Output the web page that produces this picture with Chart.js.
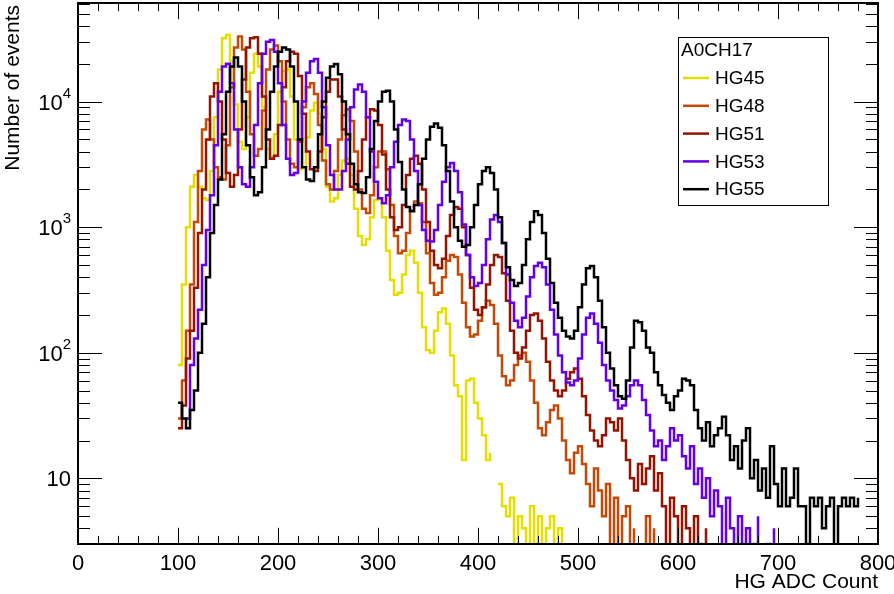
<!DOCTYPE html>
<html>
<head>
<meta charset="utf-8">
<script src="https://cdn.jsdelivr.net/npm/chart.js@4/dist/chart.umd.min.js"></script>
<style>
  html, body { margin: 0; padding: 0; background: #fff; }
  canvas { display: block; }
</style>
</head>
<body>
<canvas id="chart-canvas" width="894" height="594"></canvas>
<script>
// Histogram binning: bins are 4 ADC counts wide, first bin starts at 100
const bin_start = 100
const bin_width = 4

const series_names = ['HG45', 'HG48', 'HG51', 'HG53', 'HG55']
const series_colors = ['#e4df00', '#c24b0a', '#931400', '#6300e6', '#000000']
const legend_title = 'A0CH17'

// counts per bin (0 = empty bin)
const hg45 = [80, 350, 1000, 2100, 2600, 2100, 1700, 1650, 2800, 7500,
    18000, 32000, 34000, 21000, 9500, 4800, 4200, 7500, 17000, 24000,
    19000, 9000, 4200, 3600, 5500, 12000, 17500, 18000, 11000, 5000,
    2900, 3000, 5200, 8500, 9800, 8000, 4200, 2100, 1600, 1700,
    2600, 3400, 3500, 2600, 1400, 850, 720, 800, 1200, 1650,
    1700, 1200, 650, 380, 290, 300, 420, 600, 650, 520,
    300, 160, 105, 100, 150, 210, 225, 170, 95, 55,
    45, 14, 60, 62, 40, 30, 22, 14, 16, 0,
    9, 6, 5, 7, 2, 5, 4, 1, 6, 3,
    5, 1, 4, 5, 1, 4, 2, 3]
const hg48 = [30, 60, 150, 350, 1100, 2800, 6000, 7200, 5000, 3000,
    2500, 2400, 4500, 13000, 27000, 33000, 26000, 12000, 5500, 3700,
    4200, 8500, 18000, 26000, 28000, 21000, 10000, 5000, 3200, 3000,
    4800, 9000, 13000, 14000, 11500, 6500, 3400, 2200, 2000, 2800,
    5000, 7800, 8700, 7000, 4000, 2000, 1400, 1300, 1800, 3000,
    4000, 4000, 2900, 1500, 850, 620, 650, 900, 1350, 1600,
    1550, 1100, 620, 360, 290, 300, 400, 540, 600, 580,
    420, 250, 160, 135, 140, 180, 230, 260, 240, 170,
    95, 65, 55, 60, 80, 95, 100, 85, 60, 40,
    25, 22, 28, 35, 38, 30, 20, 14, 11, 16,
    18, 13, 9, 6, 12, 8, 5, 9, 2, 7,
    1, 5, 6, 1, 4, 0, 2, 5, 1, 4]
const hg51 = [25, 38, 90, 150, 330, 900, 2000, 5000, 11000, 14000,
    10000, 5000, 2700, 2100, 2600, 6000, 15000, 27000, 32000, 32500,
    24000, 11000, 5000, 3500, 3700, 6500, 13000, 21000, 25000, 24000,
    16000, 8000, 4000, 2900, 2800, 4000, 7500, 12000, 15000, 15000,
    11000, 6000, 3200, 2100, 2000, 2800, 5000, 7500, 8700, 8500,
    6500, 3800, 2000, 1200, 950, 1000, 1500, 2600, 3500, 3700,
    3200, 2000, 1100, 650, 500, 470, 560, 850, 1250, 1450,
    1400, 1000, 600, 330, 220, 200, 230, 350, 500, 600,
    580, 430, 260, 150, 100, 90, 110, 150, 200, 205,
    180, 130, 85, 60, 50, 45, 50, 62, 70, 75,
    62, 45, 32, 24, 20, 18, 22, 30, 28, 24,
    30, 20, 14, 10, 8, 13, 9, 12, 15, 8,
    11, 6, 2, 7, 5, 1, 6, 4, 1, 5,
    3, 1, 4, 0, 3]
const hg53 = [15, 0, 30, 80, 130, 220, 500, 950, 1800, 4500,
    12000, 19000, 20000, 14000, 6000, 3000, 2200, 2100, 3000, 6500,
    14000, 24000, 30000, 31000, 25000, 14000, 6500, 3500, 2600, 2700,
    5000, 10000, 17000, 21000, 21800, 17000, 9000, 4500, 2600, 2000,
    2000, 2800, 5000, 9000, 12500, 13700, 12000, 7500, 4000, 2300,
    1700, 1550, 1800, 3000, 4800, 6500, 7200, 7000, 5000, 2800,
    1500, 950, 780, 770, 950, 1500, 2300, 3000, 3250, 2800,
    1900, 1050, 600, 400, 340, 360, 500, 800, 1150, 1250,
    1100, 750, 420, 250, 180, 160, 190, 280, 400, 490,
    520, 480, 350, 220, 140, 95, 70, 58, 55, 60,
    90, 140, 190, 205, 170, 120, 80, 60, 50, 42,
    36, 38, 45, 55, 60, 55, 42, 32, 24, 18,
    20, 14, 18, 25, 20, 22, 15, 12, 18, 9,
    12, 7, 10, 5, 8, 6, 2, 7, 4, 1,
    5, 3, 4, 1, 3, 5, 0, 3, 1, 4]
const hg55 = [40, 30, 25, 35, 50, 100, 170, 400, 900, 1500,
    2400, 5500, 12000, 19000, 22500, 19000, 10000, 4500, 2500, 1800,
    1900, 3000, 6000, 12000, 19000, 25000, 27000, 26000, 19000, 10000,
    5000, 3000, 2400, 2330, 3000, 5500, 10000, 15500, 19000, 19900,
    16500, 10000, 5500, 3200, 2200, 1900, 1870, 2500, 4200, 7000,
    10000, 12000, 12200, 10000, 6000, 3300, 2000, 1450, 1340, 1500,
    2200, 3500, 5000, 6300, 6700, 6200, 4500, 2800, 1600, 1000,
    780, 700, 720, 1000, 1500, 2200, 2800, 3000, 2700, 2000,
    1200, 750, 480, 380, 340, 360, 500, 800, 1100, 1340,
    1250, 900, 560, 360, 250, 190, 150, 135, 130, 150,
    230, 350, 470, 490, 400, 260, 160, 100, 75, 55,
    45, 43, 60, 110, 180, 175, 150, 110, 100, 70,
    55, 46, 40, 35, 45, 50, 62, 60, 55, 35,
    25, 20, 28, 18, 22, 25, 31, 22, 14, 18,
    12, 20, 25, 10, 14, 8, 12, 7, 18, 9,
    6, 12, 6, 7, 12, 6, 6, 3, 7, 6,
    7, 4, 6, 7, 2, 6, 7, 6, 7, 6,
    7]
const all_counts = [hg45, hg48, hg51, hg53, hg55]

// axes
const x_min = 0
const x_max = 800
const y_min = 3
const y_max = 61000
const x_major_ticks = [0, 100, 200, 300, 400, 500, 600, 700, 800]
const x_minor_step = 20
const y_major_ticks = [10, 100, 1000, 10000]
const y_tick_labels = [['10', ''], ['10', '2'], ['10', '3'], ['10', '4']]
const x_title = 'HG ADC Count'
const y_title = 'Number of events'

const font_family = '"Liberation Sans", Arial, Helvetica, sans-serif'

// histogram -> step line points (value holds from a bin's low edge to the next edge)
const to_points = (counts) => {
    const pts = [{x: x_min, y: 0}]
    counts.forEach((c, i) => pts.push({x: bin_start + i * bin_width, y: c}))
    pts.push({x: bin_start + counts.length * bin_width, y: 0})
    pts.push({x: x_max, y: 0})
    return pts
}

const datasets = series_names.map((name, i) => ({
    label: name,
    data: to_points(all_counts[i]),
    borderColor: series_colors[i],
    backgroundColor: series_colors[i],
    borderWidth: 2.5,
    stepped: true,
    fill: false,
    pointRadius: 0,
    borderJoinStyle: 'miter',
    borderCapStyle: 'butt',
    order: series_names.length - 1 - i, // last series drawn on top, like ROOT
}))

// ROOT-like frame, ticks on all four sides, labels and titles
const root_frame = {
    id: 'root_frame',
    afterDatasetsDraw(chart) {
        const {ctx, chartArea: a, scales: {x, y}} = chart
        const h = a.bottom - a.top
        const w = a.right - a.left
        const x_major_len = 0.03 * h
        const y_major_len = 0.03 * w
        ctx.save()
        ctx.strokeStyle = '#000'
        ctx.lineWidth = 1
        ctx.beginPath()
        for (let v = x_min; v <= x_max; v += x_minor_step) {
            const px = Math.round(x.getPixelForValue(v)) + 0.5
            const len = x_major_ticks.includes(v) ? x_major_len : x_major_len / 2
            ctx.moveTo(px, a.bottom); ctx.lineTo(px, a.bottom - len)
            ctx.moveTo(px, a.top); ctx.lineTo(px, a.top + len)
        }
        for (let d = 1; d <= y_max; d *= 10) {
            for (let k = 1; k <= 9; k++) {
                const v = k * d
                if (v < y_min || v > y_max) continue
                const py = Math.round(y.getPixelForValue(v)) + 0.5
                const len = k === 1 ? y_major_len : y_major_len / 2
                ctx.moveTo(a.left, py); ctx.lineTo(a.left + len, py)
                ctx.moveTo(a.right, py); ctx.lineTo(a.right - len, py)
            }
        }
        ctx.stroke()

        ctx.lineWidth = 2
        ctx.strokeRect(a.left, a.top, w, h)

        // tick labels
        ctx.fillStyle = '#000'
        ctx.font = `22px ${font_family}`
        ctx.textAlign = 'center'
        ctx.textBaseline = 'middle'
        x_major_ticks.forEach(v => {
            ctx.fillText(String(v), x.getPixelForValue(v), a.bottom + 20)
        })
        y_major_ticks.forEach((v, i) => {
            const [base, sup] = y_tick_labels[i]
            const py = y.getPixelForValue(v)
            let right = a.left - 7
            ctx.textAlign = 'right'
            if (sup) {
                ctx.font = `15px ${font_family}`
                ctx.fillText(sup, right, py - 8)
                right -= ctx.measureText(sup).width
                ctx.font = `22px ${font_family}`
            }
            ctx.fillText(base, right, py + 2)
        })

        // axis titles
        ctx.font = `21px ${font_family}`
        ctx.textAlign = 'right'
        ctx.fillText(x_title, a.right, a.bottom + 38)
        ctx.save()
        ctx.translate(13, a.top + 2)
        ctx.rotate(-Math.PI / 2)
        ctx.textAlign = 'right'
        ctx.fillText(y_title, 0, 0)
        ctx.restore()
        ctx.restore()
    }
}

// legend box in the top right corner of the frame
const root_legend = {
    id: 'root_legend',
    afterDraw(chart) {
        const {ctx} = chart
        const box = {left: 678, top: 37, right: 828, bottom: 205}
        ctx.save()
        ctx.fillStyle = '#fff'
        ctx.fillRect(box.left, box.top, box.right - box.left, box.bottom - box.top)
        ctx.strokeStyle = '#000'
        ctx.lineWidth = 1
        ctx.strokeRect(box.left + 0.5, box.top + 0.5, box.right - box.left, box.bottom - box.top)
        ctx.fillStyle = '#000'
        ctx.font = `19px ${font_family}`
        ctx.textAlign = 'left'
        ctx.textBaseline = 'middle'
        ctx.fillText(legend_title, box.left + 3, box.top + 14)
        chart.data.datasets.forEach((ds, i) => {
            const row_y = box.top + 41 + i * 27.8
            ctx.strokeStyle = ds.borderColor
            ctx.lineWidth = 2.5
            ctx.beginPath()
            ctx.moveTo(box.left + 5, row_y)
            ctx.lineTo(box.left + 31, row_y)
            ctx.stroke()
            ctx.fillStyle = '#000'
            ctx.fillText(ds.label, box.left + 37, row_y + 1)
        })
        ctx.restore()
    }
}

const chart_canvas = document.getElementById('chart-canvas')
const chart = new Chart(chart_canvas, {
    type: 'line',
    data: {datasets},
    options: {
        responsive: false,
        animation: false,
        layout: {padding: {left: 78, right: 16, top: 3, bottom: 50}},
        plugins: {
            legend: {display: false},
            tooltip: {enabled: false},
        },
        scales: {
            x: {type: 'linear', min: x_min, max: x_max, display: false},
            y: {type: 'logarithmic', min: y_min, max: y_max, display: false},
        },
    },
    plugins: [root_frame, root_legend],
})
</script>
</body>
</html>
